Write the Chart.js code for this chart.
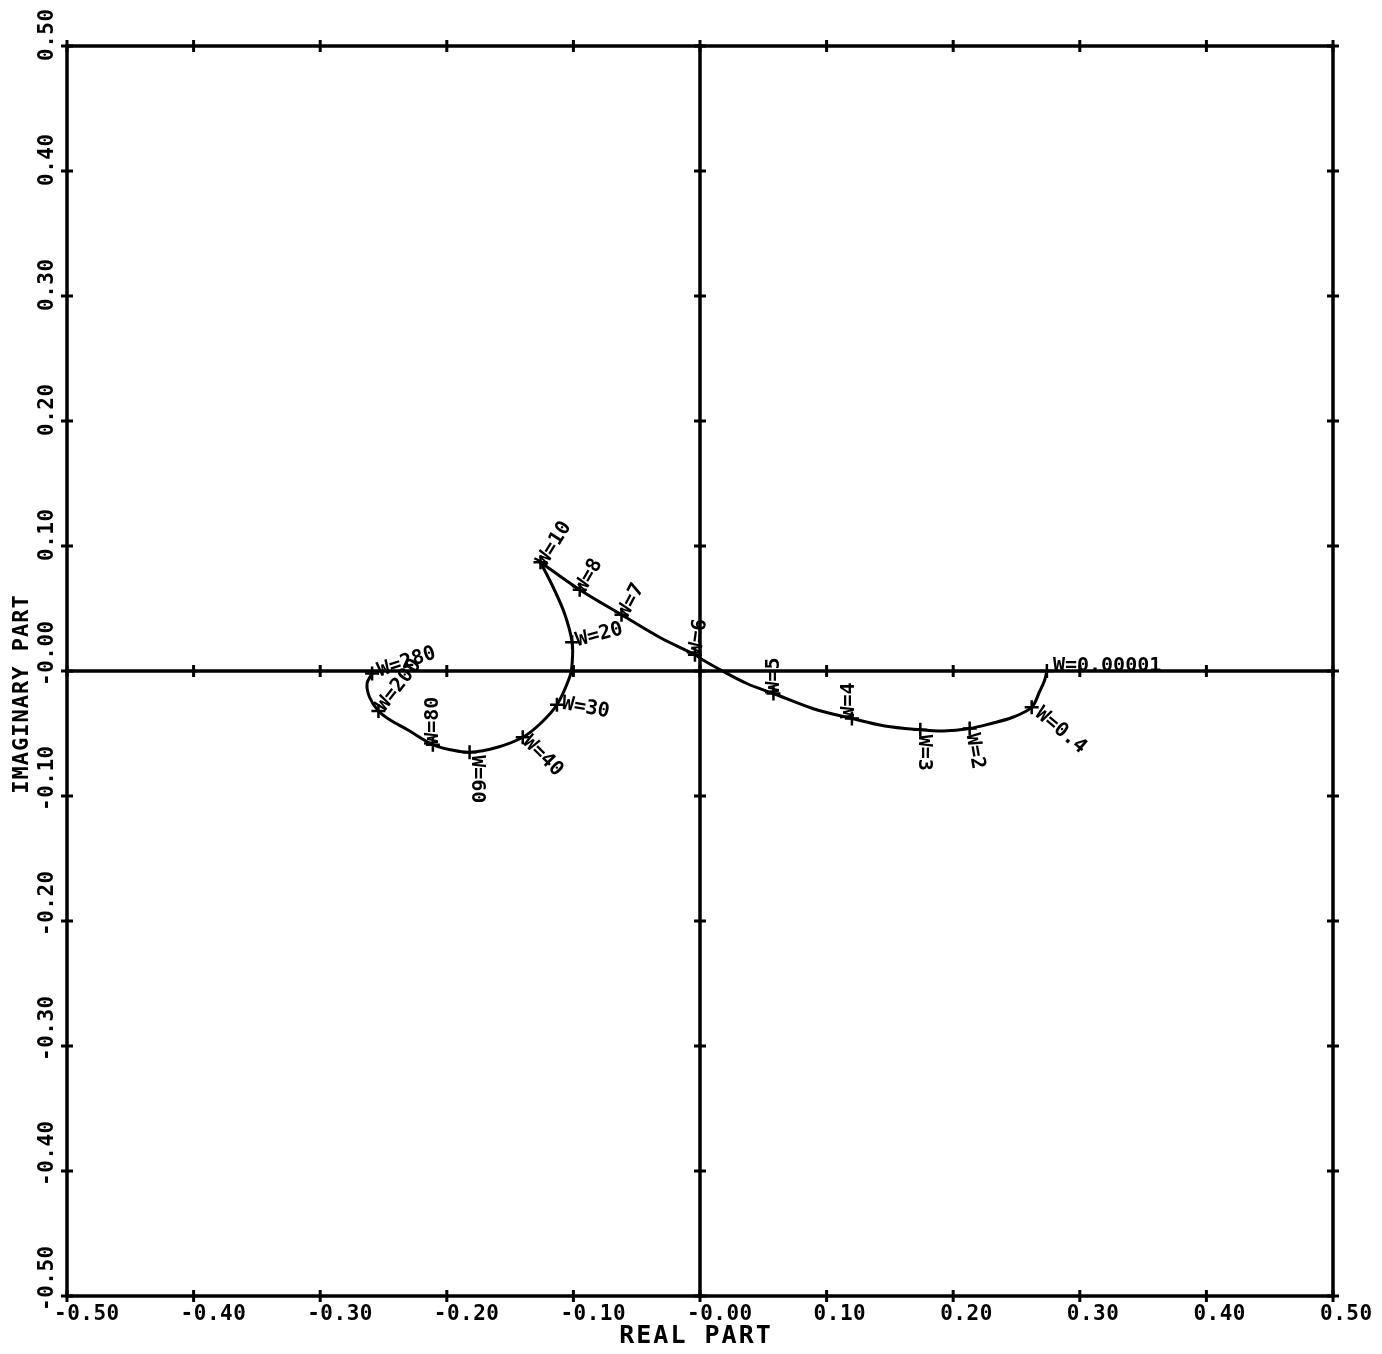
<!DOCTYPE html>
<html><head><meta charset="utf-8">
<script src="https://cdn.jsdelivr.net/npm/chart.js@4/dist/chart.umd.min.js"></script>
<style>html,body{margin:0;padding:0;background:#fff}#wrap{width:1382px;height:1354px}</style>
</head><body><div id="wrap"><canvas id="c" width="1382" height="1354"></canvas></div>
<script>
// ---- data ----
const xTickValues = [-0.5,-0.4,-0.3,-0.2,-0.1,0,0.1,0.2,0.3,0.4,0.5];
const xTickLabels = ['-0.50','-0.40','-0.30','-0.20','-0.10','-0.00','0.10','0.20','0.30','0.40','0.50'];
const yTickValues = [-0.5,-0.4,-0.3,-0.2,-0.1,0,0.1,0.2,0.3,0.4,0.5];
const yTickLabels = ['-0.50','-0.40','-0.30','-0.20','-0.10','-0.00','0.10','0.20','0.30','0.40','0.50'];
const xTitle = 'REAL PART';
const yTitle = 'IMAGINARY PART';

// Nyquist locus, low-frequency branch (W=0.00001 .. W=10)
const branch1Re = [0.274,0.272,0.268,0.262,0.247,0.230,0.213,0.192,0.174,0.146,0.120,0.089,0.058,0.037,0.016,0.002,-0.004,-0.032,-0.062,-0.095,-0.126];
const branch1Im = [0.000,-0.008,-0.017,-0.029,-0.037,-0.042,-0.046,-0.048,-0.047,-0.044,-0.038,-0.030,-0.018,-0.010,0.001,0.009,0.013,0.027,0.045,0.065,0.087];
// high-frequency branch (W=10 .. end)
const branch2Re = [-0.126,-0.116,-0.107,-0.101,-0.101,-0.103,-0.113,-0.126,-0.140,-0.160,-0.182,-0.197,-0.211,-0.231,-0.245,-0.254,-0.261,-0.263,-0.259];
const branch2Im = [0.087,0.067,0.046,0.023,0.006,-0.005,-0.027,-0.042,-0.053,-0.061,-0.065,-0.063,-0.059,-0.047,-0.039,-0.032,-0.021,-0.010,-0.002];

// frequency marks
const markLabels = ['W=0.00001','W=0.4','W=2','W=3','W=4','W=5','W=6','W=7','W=8','W=10','W=20','W=30','W=40','W=60','W=80','W=200','W=280'];
const markRe = [0.274,0.262,0.213,0.174,0.120,0.058,-0.004,-0.062,-0.095,-0.126,-0.101,-0.113,-0.140,-0.182,-0.211,-0.254,-0.259];
const markIm = [0.000,-0.029,-0.046,-0.047,-0.038,-0.018,0.013,0.045,0.065,0.087,0.023,-0.027,-0.053,-0.065,-0.059,-0.032,-0.002];

// ---- label styling (rotation deg, pixel offsets of text start from mark) ----
const markLabelRot = [0,40,80,90,-90,-90,-82,-62,-60,-58,-15,10,45,90,-90,-52,-18];
const markLabelDx  = [6,6,2,4,-3,0,1,1,0,1,4,5,3,8,0,2,6];
const markLabelDy  = [-5,4,5,5,0,0,0,2,2,2,-1,-1,2,3,0,-2,-2];

const toPts = (xs, ys) => xs.map((v, i) => ({x: v, y: ys[i]}));

const FONT = '"DejaVu Sans Mono", "Liberation Mono", monospace';

const framePlugin = {
  id: 'plotterFrame',
  beforeDatasetsDraw(chart) {
    const ctx = chart.ctx, xs = chart.scales.x, ys = chart.scales.y;
    const L = xs.getPixelForValue(-0.5), R = xs.getPixelForValue(0.5);
    const T = ys.getPixelForValue(0.5), B = ys.getPixelForValue(-0.5);
    const X0 = xs.getPixelForValue(0), Y0 = ys.getPixelForValue(0);
    ctx.save();
    ctx.strokeStyle = '#000';
    ctx.lineCap = 'square';
    ctx.lineWidth = 3.5;
    ctx.strokeRect(L, T, R - L, B - T);
    ctx.beginPath();
    ctx.moveTo(L, Y0); ctx.lineTo(R, Y0);
    ctx.moveTo(X0, T); ctx.lineTo(X0, B);
    ctx.stroke();
    // tick marks
    ctx.lineWidth = 3;
    ctx.lineCap = 'butt';
    ctx.beginPath();
    xTickValues.forEach(v => {
      const p = xs.getPixelForValue(v);
      [T, Y0, B].forEach(yy => { ctx.moveTo(p, yy - 6); ctx.lineTo(p, yy + 6); });
    });
    yTickValues.forEach(v => {
      const p = ys.getPixelForValue(v);
      [L, X0, R].forEach(xx => { ctx.moveTo(xx - 6, p); ctx.lineTo(xx + 6, p); });
    });
    ctx.stroke();
    ctx.restore();
  },
  afterDatasetsDraw(chart) {
    const ctx = chart.ctx, xs = chart.scales.x, ys = chart.scales.y;
    const B = ys.getPixelForValue(-0.5);
    const L = xs.getPixelForValue(-0.5);
    ctx.save();
    ctx.fillStyle = '#000';
    ctx.textBaseline = 'middle';
    // x tick labels
    ctx.font = 'bold 21px ' + FONT;
    ctx.letterSpacing = '0.5px';
    ctx.textAlign = 'left';
    xTickValues.forEach((v, i) => {
      ctx.fillText(xTickLabels[i], xs.getPixelForValue(v) - 13, B + 19);
    });
    // y tick labels (rotated)
    yTickValues.forEach((v, i) => {
      ctx.save();
      ctx.translate(L - 19, ys.getPixelForValue(v) + 15);
      ctx.rotate(-Math.PI / 2);
      ctx.fillText(yTickLabels[i], 0, 0);
      ctx.restore();
    });
    // titles
    ctx.textAlign = 'center';
    ctx.font = 'bold 25px ' + FONT;
    ctx.letterSpacing = '2px';
    ctx.fillText(xTitle, xs.getPixelForValue(0) - 4, B + 40);
    ctx.save();
    ctx.font = 'bold 22px ' + FONT;
    ctx.letterSpacing = '1px';
    ctx.translate(L - 45, ys.getPixelForValue(0) + 23);
    ctx.rotate(-Math.PI / 2);
    ctx.fillText(yTitle, 0, 0);
    ctx.restore();
    // mark labels
    ctx.font = 'bold 20px ' + FONT;
    ctx.letterSpacing = '0px';
    ctx.textAlign = 'left';
    markLabels.forEach((t, i) => {
      const px = xs.getPixelForValue(markRe[i]), py = ys.getPixelForValue(markIm[i]);
      ctx.save();
      ctx.translate(px + markLabelDx[i], py + markLabelDy[i]);
      ctx.rotate(markLabelRot[i] * Math.PI / 180);
      ctx.fillText(t, 0, 0);
      ctx.restore();
    });
    ctx.restore();
  }
};

new Chart(document.getElementById('c'), {
  type: 'scatter',
  data: {
    datasets: [
      { label: 'locus low', data: toPts(branch1Re, branch1Im), showLine: true, pointRadius: 0,
        borderColor: '#000', borderWidth: 3, tension: 0.35, fill: false },
      { label: 'locus high', data: toPts(branch2Re, branch2Im), showLine: true, pointRadius: 0,
        borderColor: '#000', borderWidth: 3, tension: 0.35, fill: false },
      { label: 'marks', data: toPts(markRe, markIm), showLine: false, pointStyle: 'cross',
        pointRadius: 7, borderColor: '#000', borderWidth: 2.5, backgroundColor: '#000' }
    ]
  },
  options: {
    responsive: false,
    animation: false,
    layout: { padding: { left: 67, right: 49, top: 46, bottom: 58 } },
    scales: {
      x: { type: 'linear', min: -0.5, max: 0.5, display: false },
      y: { type: 'linear', min: -0.5, max: 0.5, display: false }
    },
    plugins: { legend: { display: false }, tooltip: { enabled: false } }
  },
  plugins: [framePlugin]
});
</script>
</body></html>
